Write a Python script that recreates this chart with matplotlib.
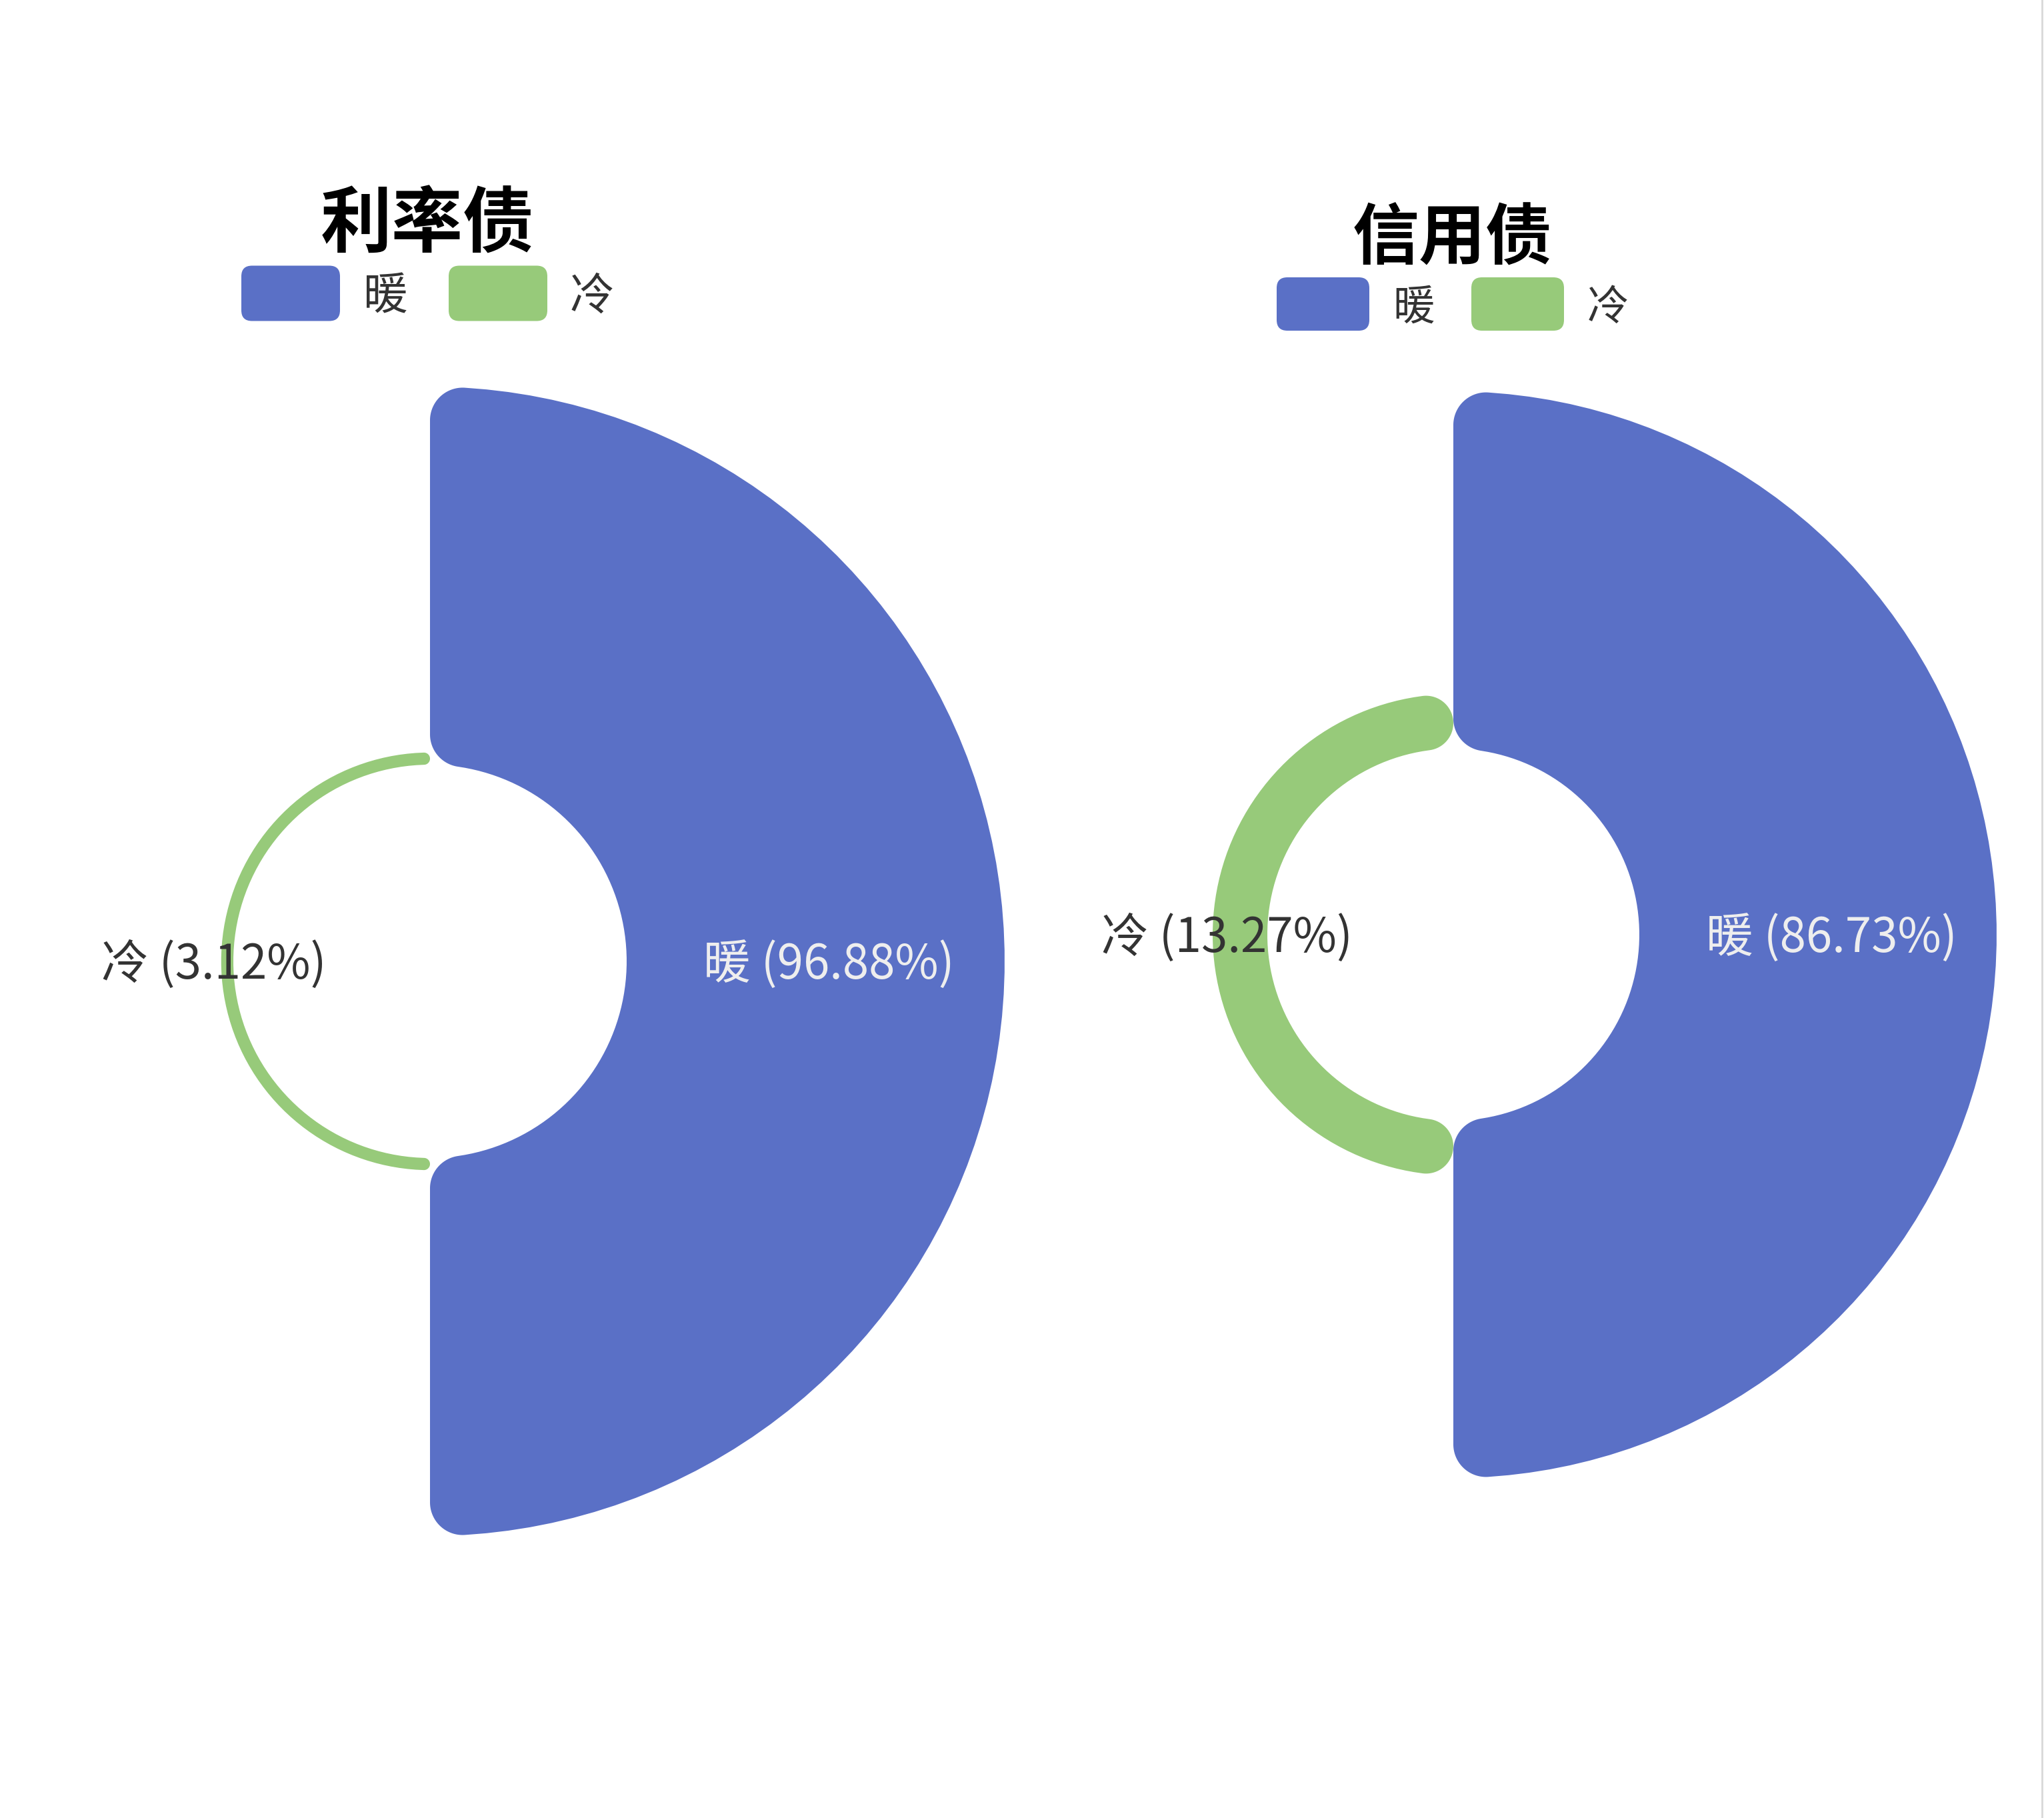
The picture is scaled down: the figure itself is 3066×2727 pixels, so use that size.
import numpy as np
import matplotlib
matplotlib.use('Agg')
import matplotlib.pyplot as plt
from matplotlib.patches import Polygon, FancyBboxPatch

plt.rcParams['font.family'] = ['Noto Sans CJK SC', 'DejaVu Sans']

# данные
titles = ['利率债', '信用债']
categories = ['暖', '冷']
rate_values = [96.88, 3.12]
credit_values = [86.73, 13.27]
colors = ['#5a70c6', '#97ca7a']
label_colors = ['#eeeeee', '#333333']

W, H = 3066, 2727

# расположение каждого графика (в пикселях картинки)
layouts = [
    dict(cx=645, cy=1442, r_in=295, r_out=862, tx=641, ty=338, tsize=77,
         ly=446, box_x=[362, 673], box_w=148, box_h=83, txt_x=[545, 855], lsize=48),
    dict(cx=2180, cy=1402, r_in=279, r_out=815, tx=2179, ty=359, tsize=72,
         ly=462, box_x=[1915, 2207], box_w=139, box_h=80, txt_x=[2089, 2381], lsize=45),
]
# углы секторов: тёплый справа, холодный слева
spans = [(-90, 90), (90, 270)]
corner = 49


def pol(cx, cy, r, t):
    t = np.radians(t)
    return cx + r * np.cos(t), cy + r * np.sin(t)


def arc(ox, oy, r, t0, t1, n=80):
    t = np.radians(np.linspace(t0, t1, n))
    return np.column_stack([ox + r * np.cos(t), oy + r * np.sin(t)])


# кольцевой сектор со скруглёнными углами
def rounded_sector(cx, cy, r0, r1, a, b, c):
    c = min(c, (r1 - r0) / 2)
    do = np.degrees(np.arcsin(c / (r1 - c)))
    di = np.degrees(np.arcsin(c / (r0 + c)))
    pts = [arc(cx, cy, r1, a + do, b - do)]
    ox, oy = pol(cx, cy, r1 - c, b - do)
    pts.append(arc(ox, oy, c, b - do, b + 90))
    ox, oy = pol(cx, cy, r0 + c, b - di)
    pts.append(arc(ox, oy, c, b + 90, b + 180 - di))
    pts.append(arc(cx, cy, r0, b - di, a + di))
    ox, oy = pol(cx, cy, r0 + c, a + di)
    pts.append(arc(ox, oy, c, a + di + 180, a + 270))
    ox, oy = pol(cx, cy, r1 - c, a + do)
    pts.append(arc(ox, oy, c, a - 90, a + do))
    return np.vstack(pts)


fig = plt.figure(figsize=(W / 100, H / 100), dpi=100)
ax = fig.add_axes([0, 0, 1, 1])
ax.set_xlim(0, W)
ax.set_ylim(0, H)
ax.axis('off')

for title, values, lay in zip(titles, [rate_values, credit_values], layouts):
    cx, cy = lay['cx'], H - lay['cy']
    r0, r1 = lay['r_in'], lay['r_out']
    vmax = max(values)
    for i, (cat, v) in enumerate(zip(categories, values)):
        r = r0 + (r1 - r0) * v / vmax
        a, b = spans[i]
        ax.add_patch(Polygon(rounded_sector(cx, cy, r0, r, a, b, corner),
                             closed=True, facecolor=colors[i], edgecolor='none'))
        # подпись
        rm = (r0 + r) / 2 + 20
        lx = cx + rm if i == 0 else cx - rm
        ax.text(lx, cy - 5, f'{cat} ({v:.2f}%)', ha='center', va='center',
                fontsize=51, color=label_colors[i])

    ax.text(lay['tx'], H - lay['ty'], title, ha='center', va='center',
            fontsize=lay['tsize'], fontweight='bold', color='black')

    # легенда
    for i, cat in enumerate(categories):
        bx = lay['box_x'][i]
        by = H - lay['ly'] + 6 - lay['box_h'] / 2
        ax.add_patch(FancyBboxPatch((bx, by), lay['box_w'], lay['box_h'],
                                    boxstyle='round,pad=0,rounding_size=16',
                                    facecolor=colors[i], edgecolor='none'))
        ax.text(lay['txt_x'][i], H - lay['ly'], cat, ha='left', va='center',
                fontsize=lay['lsize'], color='#333333')

ax.axvline(3063, color='#d8d8d8', lw=2)

fig.savefig('out.png', dpi=100, facecolor='white')
